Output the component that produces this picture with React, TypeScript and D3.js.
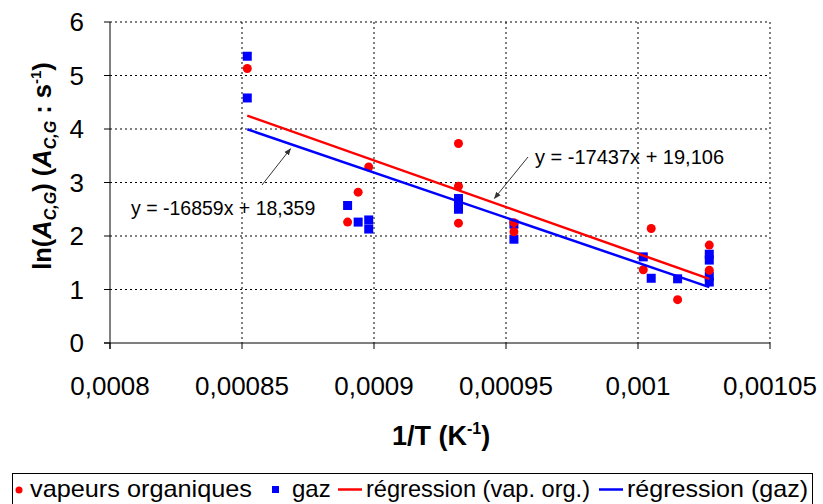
import React from "react";
import * as d3 from "d3";

const W = 823;
const H = 504;

const xTicks = [0.0008, 0.00085, 0.0009, 0.00095, 0.001, 0.00105];
const xTickLabels = ["0,0008", "0,00085", "0,0009", "0,00095", "0,001", "0,00105"];
const yTicks = [0, 1, 2, 3, 4, 5, 6];

const vapX = [0.000852, 0.00089, 0.000894, 0.000898, 0.000932, 0.000932, 0.000932, 0.000953, 0.000953, 0.001002, 0.001005, 0.001015, 0.001027, 0.001027];
const vapY = [5.13, 2.26, 2.82, 3.29, 3.73, 2.93, 2.24, 2.25, 2.08, 1.37, 2.14, 0.81, 1.83, 1.36];

const gazX = [0.000852, 0.000852, 0.00089, 0.000894, 0.000898, 0.000898, 0.000932, 0.000932, 0.000932, 0.000953, 0.000953, 0.001002, 0.001005, 0.001015, 0.001027, 0.001027, 0.001027, 0.001027];
const gazY = [5.36, 4.58, 2.57, 2.26, 2.3, 2.13, 2.7, 2.6, 2.5, 2.22, 1.94, 1.61, 1.21, 1.2, 1.66, 1.55, 1.25, 1.14];

const regVap = { slope: -17437, intercept: 19.106, label: "y = -17437x + 19,106" };
const regGaz = { slope: -16859, intercept: 18.359, label: "y = -16859x + 18,359" };
const regRange = [0.000852, 0.001027];

const legendLabels = ["vapeurs organiques", "gaz", "régression (vap. org.)", "régression (gaz)"];

const FONT = "'Liberation Sans', Arial, sans-serif";

export default function App() {
  const left = 110, right = 770, top = 22, bottom = 343;
  const x = d3.scaleLinear().domain([0.0008, 0.00105]).range([left, right]);
  const y = d3.scaleLinear().domain([0, 6]).range([bottom, top]);

  const regPath = (r: { slope: number; intercept: number }) =>
    d3
      .line<number>()
      .x((d) => x(d))
      .y((d) => y(r.slope * d + r.intercept))(regRange) || "";

  const gazAnchorX = 0.000868;
  const vapAnchorX = 0.000946;
  const gazAx = x(gazAnchorX) + 1;
  const gazAy = y(regGaz.slope * gazAnchorX + regGaz.intercept) + 5;
  const vapAx = x(vapAnchorX) - 1;
  const vapAy = y(regVap.slope * vapAnchorX + regVap.intercept) - 5;

  return (
    <svg width={W} height={H} style={{ position: "absolute", left: 0, top: 0, background: "#fff" }} fontFamily={FONT}>
      <defs>
        <marker id="ah" viewBox="0 0 10 10" refX="9" refY="5" markerWidth="7" markerHeight="7" orient="auto-start-reverse">
          <path d="M0,1 L10,5 L0,9 z" fill="#333" />
        </marker>
      </defs>
      <rect width={W} height={H} fill="#fff" />
      {xTicks.slice(1).map((t) => (
        <line key={"gx" + t} x1={x(t)} x2={x(t)} y1={top} y2={bottom} stroke="#000" strokeWidth={1} strokeDasharray="2,3" />
      ))}
      {yTicks.slice(1).map((t) => (
        <line key={"gy" + t} x1={left} x2={right} y1={y(t)} y2={y(t)} stroke="#000" strokeWidth={1} strokeDasharray="2,3" />
      ))}
      <line x1={left} x2={left} y1={top} y2={bottom + 6} stroke="#000" strokeWidth={1} />
      <line x1={left - 6} x2={right} y1={bottom} y2={bottom} stroke="#000" strokeWidth={1} />
      {yTicks.map((t) => (
        <g key={"yt" + t}>
          <line x1={left - 6} x2={left} y1={y(t)} y2={y(t)} stroke="#000" />
          <text x={84} y={y(t)} dy="0.36em" textAnchor="end" fontSize={26}>
            {t}
          </text>
        </g>
      ))}
      {xTicks.map((t, i) => (
        <g key={"xt" + t}>
          <line x1={x(t)} x2={x(t)} y1={bottom} y2={bottom + 6} stroke="#000" />
          <text x={x(t)} y={395} textAnchor="middle" fontSize={26}>
            {xTickLabels[i]}
          </text>
        </g>
      ))}
      <text x={441} y={445} textAnchor="middle" fontSize={27} fontWeight="bold">
        1/T (K<tspan fontSize={16} dy={-11}>-1</tspan>
        <tspan dy={11}>)</tspan>
      </text>
      <text transform="translate(51,166) rotate(-90)" textAnchor="middle" fontSize={25.5} fontWeight="bold">
        ln(<tspan fontStyle="italic">A</tspan>
        <tspan fontSize={16} dy={5} fontStyle="italic">C,G</tspan>
        <tspan dy={-5}>) (</tspan>
        <tspan fontStyle="italic">A</tspan>
        <tspan fontSize={16} dy={5} fontStyle="italic">C,G</tspan>
        <tspan dy={-5}> : s</tspan>
        <tspan fontSize={15} dy={-10}>-1</tspan>
        <tspan dy={10}>)</tspan>
      </text>
      {gazX.map((d, i) => (
        <rect key={"g" + i} x={x(d) - 4.5} y={y(gazY[i]) - 4.5} width={9} height={9} fill="#0000ff" />
      ))}
      {vapX.map((d, i) => (
        <circle key={"v" + i} cx={x(d)} cy={y(vapY[i])} r={4.5} fill="#ff0000" />
      ))}
      <path d={regPath(regVap)} fill="none" stroke="#ff0000" strokeWidth={2.5} />
      <path d={regPath(regGaz)} fill="none" stroke="#0000ff" strokeWidth={2.5} />
      <line x1={262} y1={185} x2={gazAx} y2={gazAy} stroke="#333" strokeWidth={1} markerEnd="url(#ah)" />
      <text x={131} y={215} fontSize={19.5}>
        {regGaz.label}
      </text>
      <line x1={528} y1={157} x2={vapAx} y2={vapAy} stroke="#333" strokeWidth={1} markerEnd="url(#ah)" />
      <text x={535} y={164} fontSize={20}>
        {regVap.label}
      </text>
      <rect x={12.5} y={473.5} width={800} height={40} fill="#fff" stroke="#000" strokeWidth={1} />
      <g fontSize={24}>
        <circle cx={19} cy={490} r={3.5} fill="#ff0000" />
        <text x={30} y={497} textLength={222} lengthAdjust="spacingAndGlyphs">{legendLabels[0]}</text>
        <rect x={272} y={486} width={7} height={7} fill="#0000ff" />
        <text x={292} y={497}>{legendLabels[1]}</text>
        <line x1={338} x2={362} y1={489.5} y2={489.5} stroke="#ff0000" strokeWidth={2.5} />
        <text x={366} y={497} textLength={224} lengthAdjust="spacingAndGlyphs">{legendLabels[2]}</text>
        <line x1={599} x2={623} y1={489.5} y2={489.5} stroke="#0000ff" strokeWidth={2.5} />
        <text x={627} y={497} textLength={181} lengthAdjust="spacingAndGlyphs">{legendLabels[3]}</text>
      </g>
    </svg>
  );
}
